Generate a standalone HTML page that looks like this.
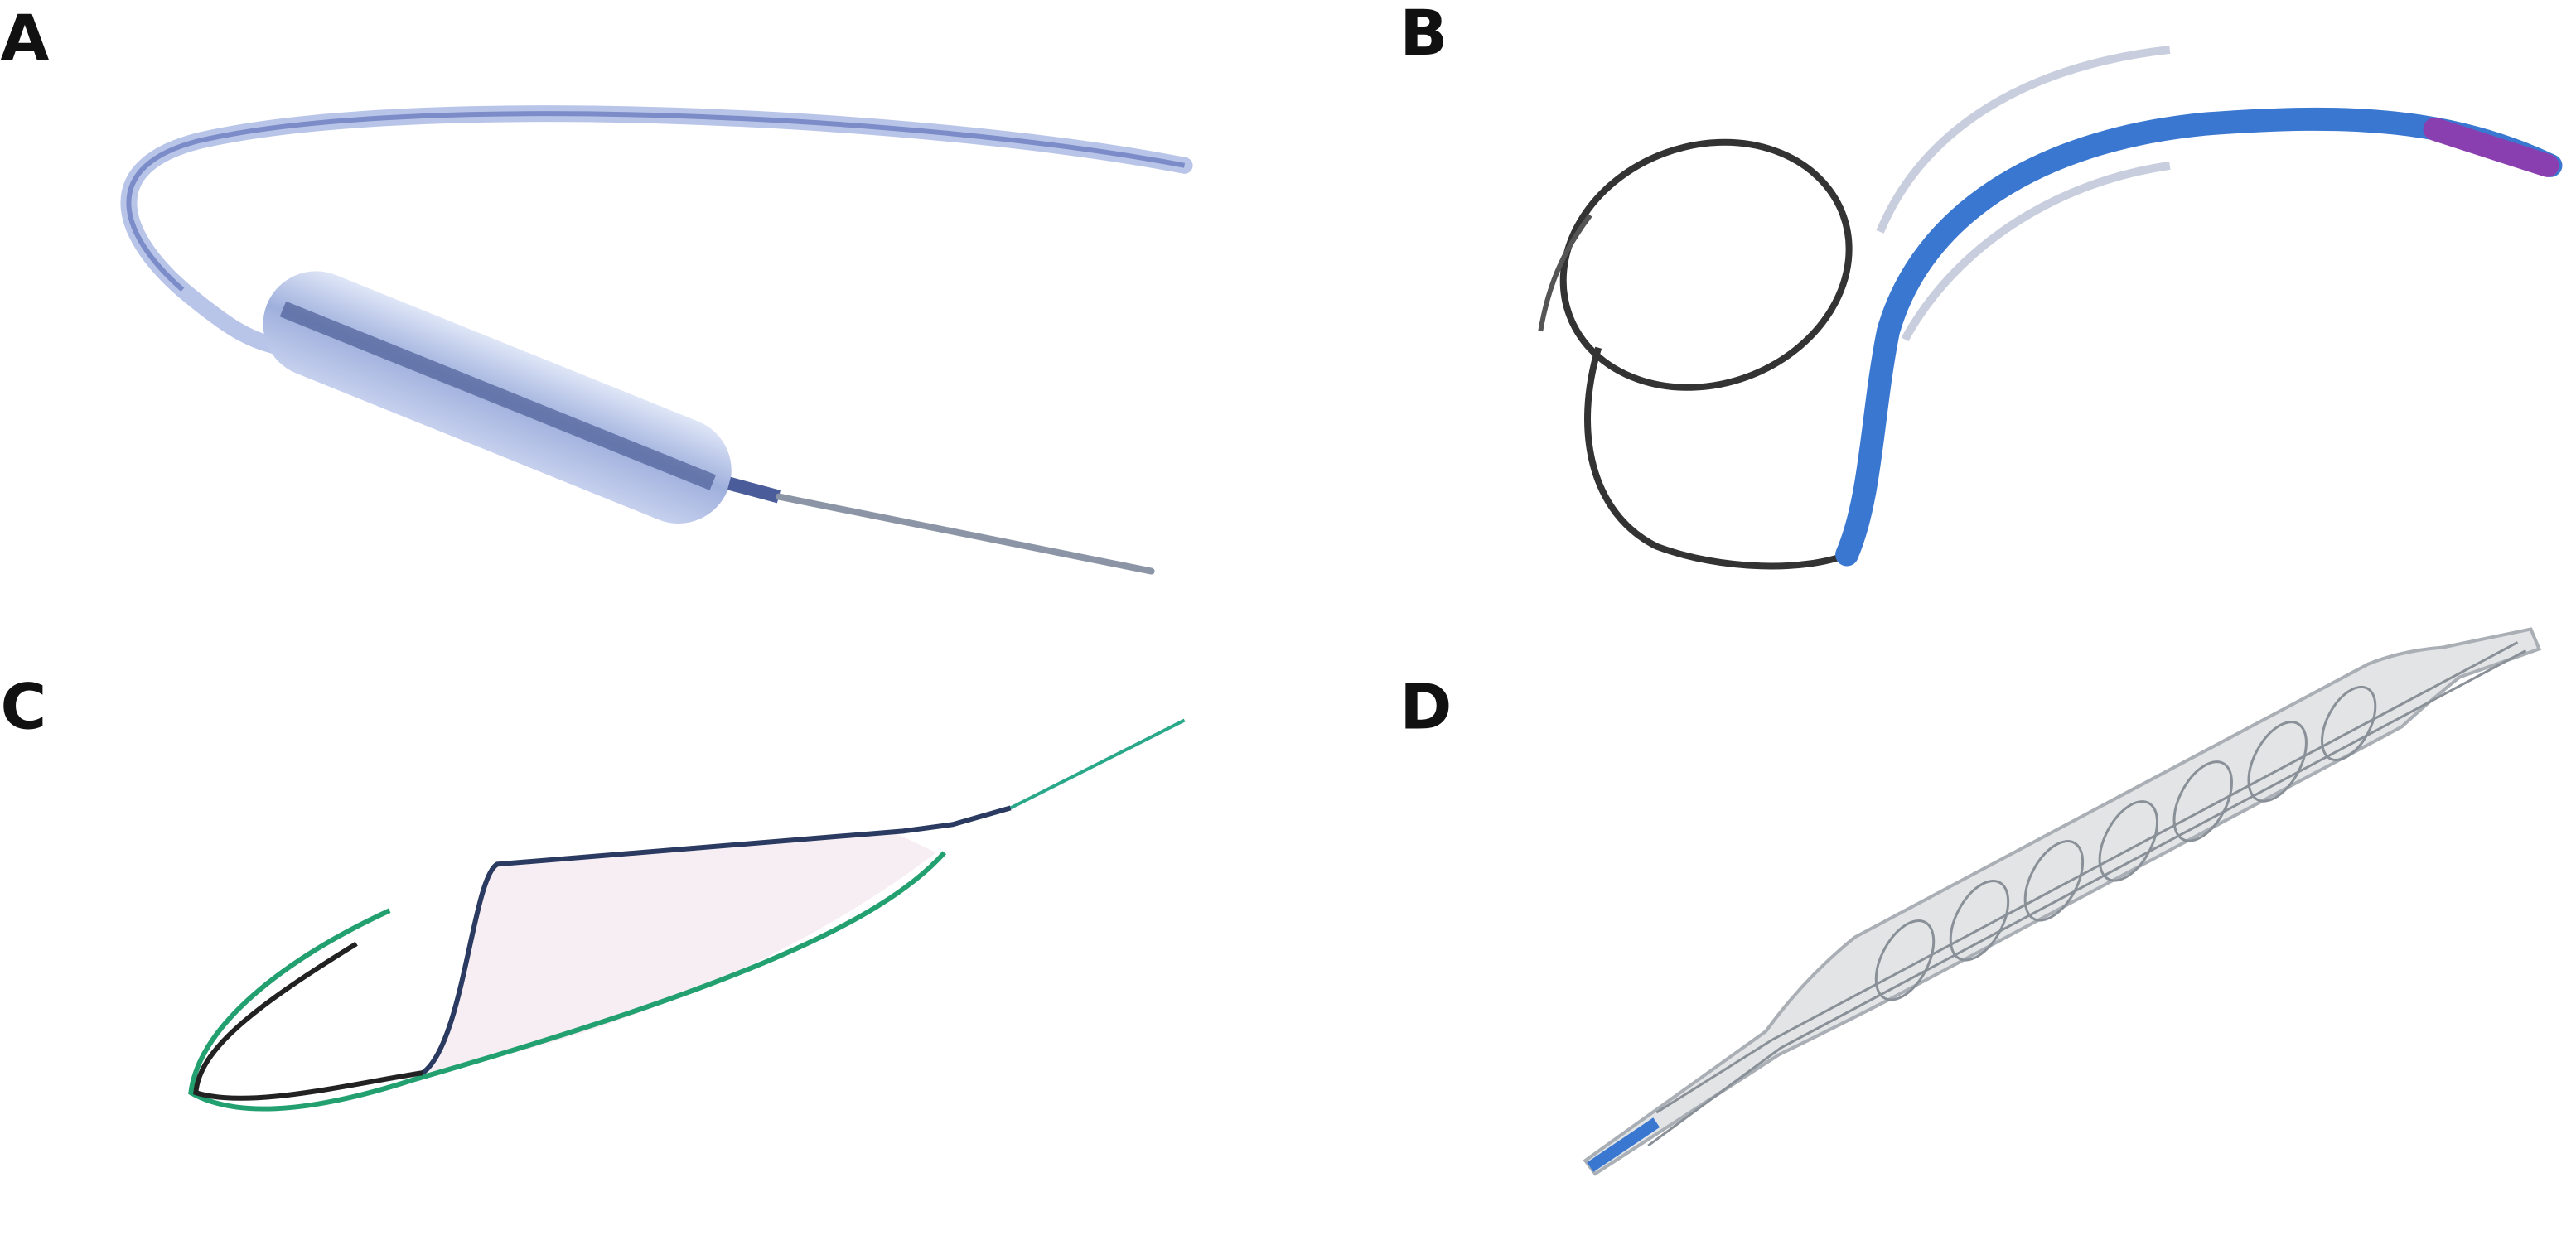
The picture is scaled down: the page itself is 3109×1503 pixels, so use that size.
<!DOCTYPE html>
<html><head><meta charset="utf-8"><style>
html,body{margin:0;padding:0;background:#fff;width:3109px;height:1503px;overflow:hidden}
svg{display:block}
text{font-family:"DejaVu Sans","Liberation Sans",sans-serif;font-weight:bold;font-size:38px;fill:#111}
</style></head><body>
<svg width="3109" height="1503" viewBox="0 0 1555 752" xmlns="http://www.w3.org/2000/svg">
<defs>
<linearGradient id="bal" x1="0" y1="0" x2="0" y2="1">
<stop offset="0" stop-color="#dfe6f7"/><stop offset="0.5" stop-color="#9fb0dd"/><stop offset="1" stop-color="#c6d0ee"/>
</linearGradient>
</defs>
<text x="0" y="36">A</text>
<text x="845" y="33">B</text>
<text x="0" y="440">C</text>
<text x="845" y="440">D</text>

<!-- A -->
<path d="M715,100 C560,70 250,55 120,85 C60,100 70,140 110,175 C140,200 150,205 170,210" fill="none" stroke="#b9c5e8" stroke-width="10" stroke-linecap="round"/>
<path d="M715,100 C560,70 250,55 120,85 C60,100 70,140 110,175" fill="none" stroke="#7b8cc8" stroke-width="3"/>
<g transform="rotate(22 300 240)">
<rect x="150" y="208" width="300" height="64" rx="32" fill="url(#bal)"/>
<rect x="160" y="234" width="280" height="10" fill="#3e4e8a" opacity="0.6"/>
</g>
<path d="M440,292 L470,300" stroke="#4a5c9a" stroke-width="8"/>
<path d="M470,300 L695,345" stroke="#8c95a6" stroke-width="4" stroke-linecap="round"/>

<!-- B -->
<ellipse cx="1030" cy="160" rx="88" ry="72" transform="rotate(-20 1030 160)" fill="none" stroke="#333" stroke-width="4"/>
<path d="M965,210 C950,260 960,310 1000,330 C1040,345 1090,345 1115,335" fill="none" stroke="#333" stroke-width="4"/>
<path d="M960,130 C945,150 935,170 930,200" fill="none" stroke="#555" stroke-width="3"/>
<path d="M1115,335 C1130,300 1130,250 1140,200 C1160,130 1230,85 1330,75 C1420,68 1480,72 1540,100" fill="none" stroke="#3a77d0" stroke-width="14" stroke-linecap="round"/>
<path d="M1470,78 L1538,100" stroke="#8a3fb0" stroke-width="14" stroke-linecap="round"/>
<path d="M1135,140 C1160,80 1220,40 1310,30" fill="none" stroke="#c8cede" stroke-width="5"/>
<path d="M1150,205 C1180,150 1240,110 1310,100" fill="none" stroke="#c8cede" stroke-width="5"/>

<!-- C -->
<path d="M255,648 C280,630 285,530 300,522 L540,503 L565,515 C480,580 360,630 255,648 Z" fill="#f7eef3"/>
<path d="M255,648 C280,630 285,530 300,522 L545,502 L575,498 L610,488" fill="none" stroke="#2a3a60" stroke-width="3"/>
<path d="M610,488 L715,435" stroke="#2aa88a" stroke-width="2"/>
<path d="M235,550 C170,580 120,620 115,660 C150,680 210,665 250,652 C430,600 530,560 570,515" fill="none" stroke="#22a070" stroke-width="3"/>
<path d="M215,570 C150,610 120,635 118,660 C150,670 210,655 255,648" fill="none" stroke="#222" stroke-width="3"/>

<!-- D -->
<path d="M957,701 L1066,623 Q1090,590 1120,566 L1430,401 Q1450,393 1475,391 L1528,380 L1533,392 L1485,409 Q1465,425 1450,439 L1140,604 Q1105,622 1074,637 L963,709 Z" fill="#e2e4e6" stroke="#a9afb5" stroke-width="2"/>
<g fill="none" stroke="#8a9098" stroke-width="1.5">
<ellipse cx="1150" cy="580" rx="14" ry="26" transform="rotate(28 1150 580)"/>
<ellipse cx="1195" cy="556" rx="14" ry="26" transform="rotate(28 1195 556)"/>
<ellipse cx="1240" cy="532" rx="14" ry="26" transform="rotate(28 1240 532)"/>
<ellipse cx="1285" cy="508" rx="14" ry="26" transform="rotate(28 1285 508)"/>
<ellipse cx="1330" cy="484" rx="14" ry="26" transform="rotate(28 1330 484)"/>
<ellipse cx="1375" cy="460" rx="14" ry="26" transform="rotate(28 1375 460)"/>
<ellipse cx="1418" cy="437" rx="13" ry="24" transform="rotate(28 1418 437)"/>
<path d="M1000,672 L1070,628 L1520,388 M995,692 L1075,633 L1525,393"/>
</g>
<path d="M960,705 L1000,678" stroke="#3a77d0" stroke-width="7"/>
</svg>
</body></html>
